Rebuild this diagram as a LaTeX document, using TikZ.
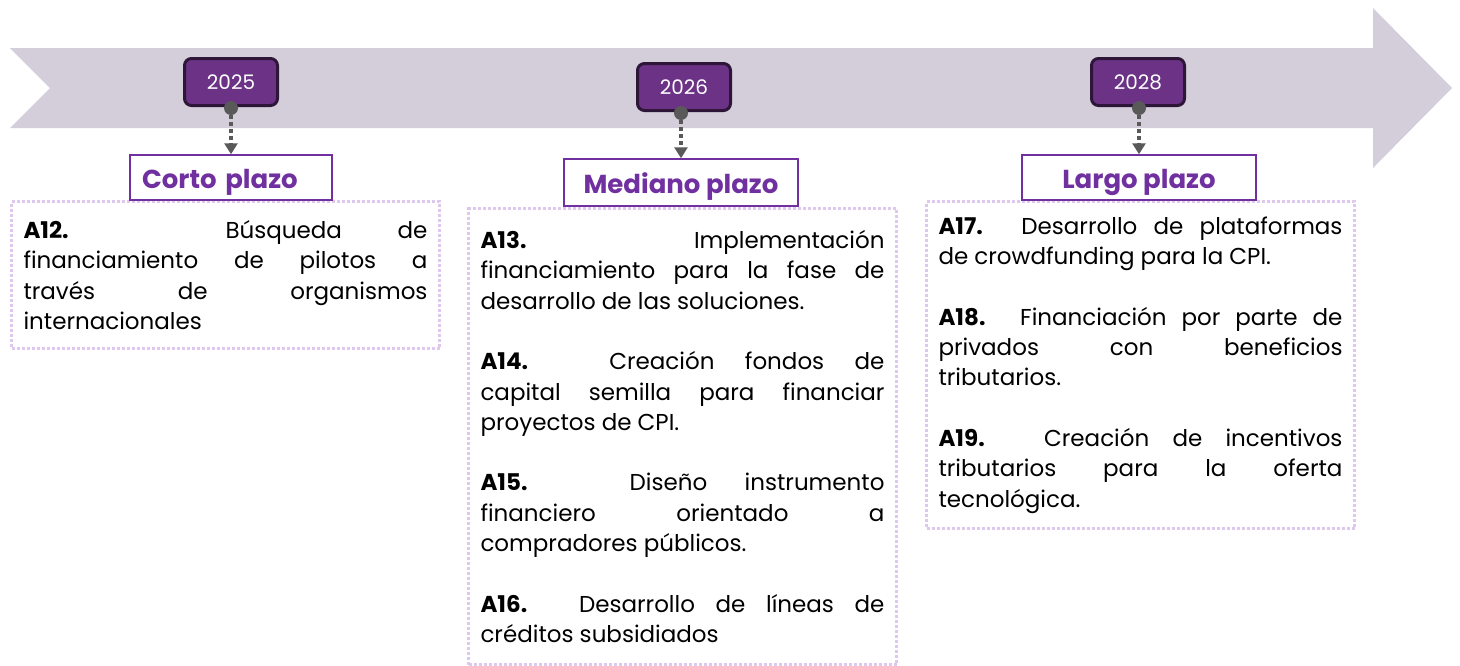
\documentclass[tikz,border=0pt]{standalone}
\usepackage{fontspec}
\setmainfont{Poppins}
\usetikzlibrary{arrows.meta}
\definecolor{arrowgray}{HTML}{D3CEDA}
\definecolor{yearfill}{HTML}{6B3286}
\definecolor{yearborder}{HTML}{2E1639}
\definecolor{lblpurple}{HTML}{7030A0}
\definecolor{dotpurple}{HTML}{DEC8EE}
\definecolor{conngray}{HTML}{595959}
\newcommand\bodysetup{\fontsize{23}{30.3}\selectfont\tolerance=10000\relax
  \hyphenpenalty=10000\relax\exhyphenpenalty=10000\relax}
\begin{document}
\begin{tikzpicture}[x=1pt,y=-1pt,
  yearbox/.style={draw=yearborder, fill=yearfill, line width=3pt, rounded corners=7pt,
    minimum width=93pt, minimum height=47pt, inner sep=0pt, text=white,
    font=\fontsize{20}{20}\selectfont},
  knob/.style={circle, fill=conngray, minimum size=14pt, inner sep=0pt},
  conn/.style={draw=conngray, line width=4pt, dash pattern=on 4pt off 3pt,
    -{Triangle[width=13pt,length=11pt]}},
  lblbox/.style={draw=lblpurple, fill=white, line width=1.5pt, minimum height=45pt,
    inner sep=0pt, text height=26pt, text depth=4pt, text=lblpurple,
    font=\fontsize{26}{26}\selectfont\bfseries},
  contentbox/.style={draw=dotpurple, line width=3pt, dash pattern=on 3pt off 2pt,
    text width=404pt, inner xsep=12pt, inner ysep=0pt, align=justify, anchor=north west,
    font=\bodysetup},
]
\useasboundingbox (0,0) rectangle (1460,665);
% big timeline arrow
\fill[arrowgray] (10,48) -- (1373,48) -- (1373,8) -- (1452,88) -- (1373,168)
  -- (1373,128) -- (10,128) -- (50,88) -- cycle;

% content boxes
\node[contentbox, minimum height=147pt] (c1) at (10,200) {%
\textbf{A12.} Búsqueda de\linebreak financiamiento de pilotos a\linebreak través de organismos\linebreak internacionales};
\node[contentbox, minimum height=456pt] (c2) at (467,207) {%
\textbf{A13.} Implementación\linebreak financiamiento para la fase de\linebreak desarrollo de las soluciones.\par\vskip\baselineskip
\textbf{A14.} Creación fondos de\linebreak capital semilla para financiar\linebreak proyectos de CPI.\par\vskip\baselineskip
\textbf{A15.} Diseño instrumento\linebreak financiero orientado a\linebreak compradores públicos.\par\vskip\baselineskip
\textbf{A16.} Desarrollo de líneas de\linebreak créditos subsidiados};
\node[contentbox, minimum height=327pt] (c3) at (925,200) {%
\textbf{A17.} Desarrollo de plataformas\linebreak de crowdfunding para la CPI.\par\vskip\baselineskip
\textbf{A18.} Financiación por parte de\linebreak privados con beneficios\linebreak tributarios.\par\vskip\baselineskip
\textbf{A19.} Creación de incentivos\linebreak tributarios para la oferta\linebreak tecnológica.};

% year boxes
\node[yearbox] (y1) at (231,82) {2025};
\node[yearbox] (y2) at (684,87) {2026};
\node[yearbox] (y3) at (1138,82) {2028};

% label boxes
\node[lblbox, text width=178pt, inner xsep=12pt, align=left] (l1) at (231,177.5) {Corto plazo};
\node[lblbox, minimum width=234pt, minimum height=47pt] (l2) at (681,182.5) {Mediano plazo};
\node[lblbox, minimum width=234pt] (l3) at (1139,177.5) {Largo plazo};

% knobs and connectors
\node[knob] (k1) at (231,108) {};
\node[knob] (k2) at (681,113) {};
\node[knob] (k3) at (1139,108) {};
\draw[conn] (k1.south) -- (l1.north);
\draw[conn] (k2.south) -- (l2.north);
\draw[conn] (k3.south) -- (l3.north);
\end{tikzpicture}
\end{document}
